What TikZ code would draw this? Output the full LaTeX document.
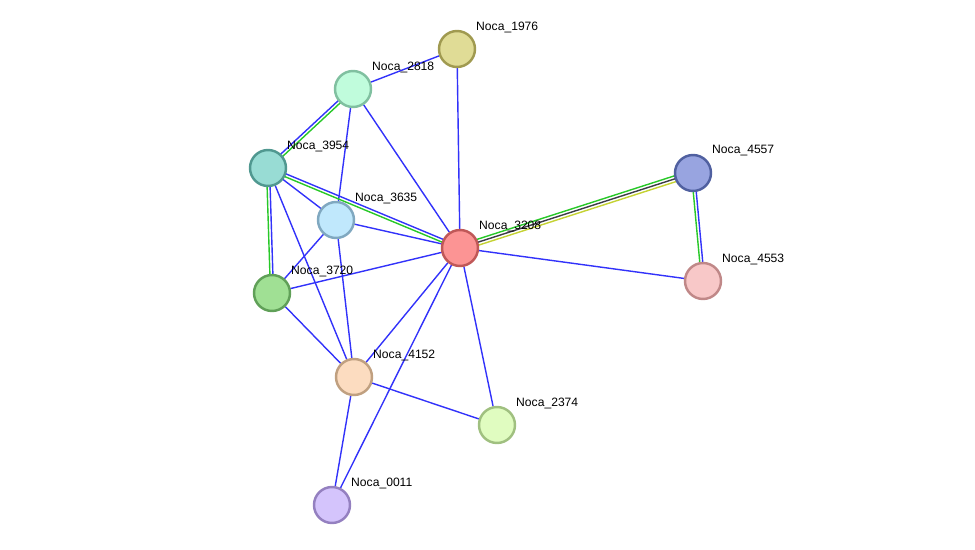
\documentclass[tikz,border=0pt]{standalone}
\usepackage{fontspec}
\setmainfont{Liberation Sans}
\usepackage{xcolor}
\usepackage{tikz}
\usetikzlibrary{calc, backgrounds, positioning}

\definecolor{lnkblue}{RGB}{50,50,250}
\definecolor{lnkgreen}{RGB}{40,200,40}
\definecolor{lnkgray}{RGB}{60,60,70}
\definecolor{lnkyellow}{RGB}{196,210,50}

\tikzset{
    prot/.style={circle, draw, line width=1.4pt, minimum size=0.72cm, inner sep=0pt},
    lbl/.style={anchor=west, inner sep=0.5pt, font=\fontsize{6.9}{8}\selectfont},
    lnk/.style={line width=0.8pt, line cap=round},
}

% two parallel lines between nodes #1 and #2
\newcommand{\pairlink}[4]{%
    \draw[lnk, #3] ($(#1.center)!0.85pt!90:(#2.center)$) -- ($(#2.center)!0.85pt!-90:(#1.center)$);
    \draw[lnk, #4] ($(#1.center)!0.85pt!-90:(#2.center)$) -- ($(#2.center)!0.85pt!90:(#1.center)$);
}
% three parallel lines between nodes #1 and #2
\newcommand{\triplelink}[5]{%
    \draw[lnk, #3] ($(#1.center)!1.7pt!90:(#2.center)$) -- ($(#2.center)!1.7pt!-90:(#1.center)$);
    \draw[lnk, #4] (#1.center) -- (#2.center);
    \draw[lnk, #5] ($(#1.center)!1.7pt!-90:(#2.center)$) -- ($(#2.center)!1.7pt!90:(#1.center)$);
}

\begin{document}
\begin{tikzpicture}[x=0.02cm, y=-0.02cm]
    \useasboundingbox (0,0) rectangle (975,550);

    % 1. Cac nut protein
    \node[prot, fill={rgb,255:red,224;green,220;blue,150}, draw={rgb,255:red,160;green,154;blue,80}] (n1976) at (457,49) {};
    \node[prot, fill={rgb,255:red,192;green,252;blue,220}, draw={rgb,255:red,128;green,192;blue,160}] (n2818) at (353,89) {};
    \node[prot, fill={rgb,255:red,152;green,220;blue,212}, draw={rgb,255:red,80;green,152;blue,144}] (n3954) at (268,168) {};
    \node[prot, fill={rgb,255:red,192;green,232;blue,252}, draw={rgb,255:red,128;green,168;blue,192}] (n3635) at (336,220) {};
    \node[prot, fill={rgb,255:red,252;green,148;blue,148}, draw={rgb,255:red,192;green,88;blue,88}] (n3208) at (460,248) {};
    \node[prot, fill={rgb,255:red,160;green,224;blue,148}, draw={rgb,255:red,96;green,160;blue,88}] (n3720) at (272,293) {};
    \node[prot, fill={rgb,255:red,152;green,164;blue,224}, draw={rgb,255:red,80;green,96;blue,160}] (n4557) at (693,173) {};
    \node[prot, fill={rgb,255:red,248;green,200;blue,200}, draw={rgb,255:red,192;green,136;blue,136}] (n4553) at (703,281) {};
    \node[prot, fill={rgb,255:red,252;green,220;blue,192}, draw={rgb,255:red,192;green,160;blue,128}] (n4152) at (354,377) {};
    \node[prot, fill={rgb,255:red,224;green,252;blue,192}, draw={rgb,255:red,160;green,192;blue,128}] (n2374) at (497,425) {};
    \node[prot, fill={rgb,255:red,212;green,196;blue,252}, draw={rgb,255:red,148;green,128;blue,192}] (n0011) at (332,505) {};

    % 2. Nhan ten
    \foreach \p in {1976, 2818, 3954, 3635, 3208, 3720, 4557, 4553, 4152, 2374, 0011}
        \node[lbl] (l\p) at ($(n\p)+(18,-22)$) {Noca\_\p};

    % 3. Cac canh (nam duoi cac nut)
    \begin{scope}[on background layer]
        \foreach \a/\b in {1976/2818, 1976/3208, 2818/3635, 2818/3208, 3954/3635, 3954/4152,
                           3635/3208, 3635/3720, 3635/4152, 3720/3208, 3720/4152, 3208/4553,
                           3208/4152, 3208/2374, 3208/0011, 4152/2374, 4152/0011}
            \draw[lnk, lnkblue] (n\a) -- (n\b);
        \pairlink{n2818}{n3954}{lnkgreen}{lnkblue}
        \pairlink{n3954}{n3208}{lnkblue}{lnkgreen}
        \pairlink{n3954}{n3720}{lnkblue}{lnkgreen}
        \pairlink{n4557}{n4553}{lnkblue}{lnkgreen}
        \triplelink{n4557}{n3208}{lnkyellow}{lnkgray}{lnkgreen}
    \end{scope}
\end{tikzpicture}
\end{document}
